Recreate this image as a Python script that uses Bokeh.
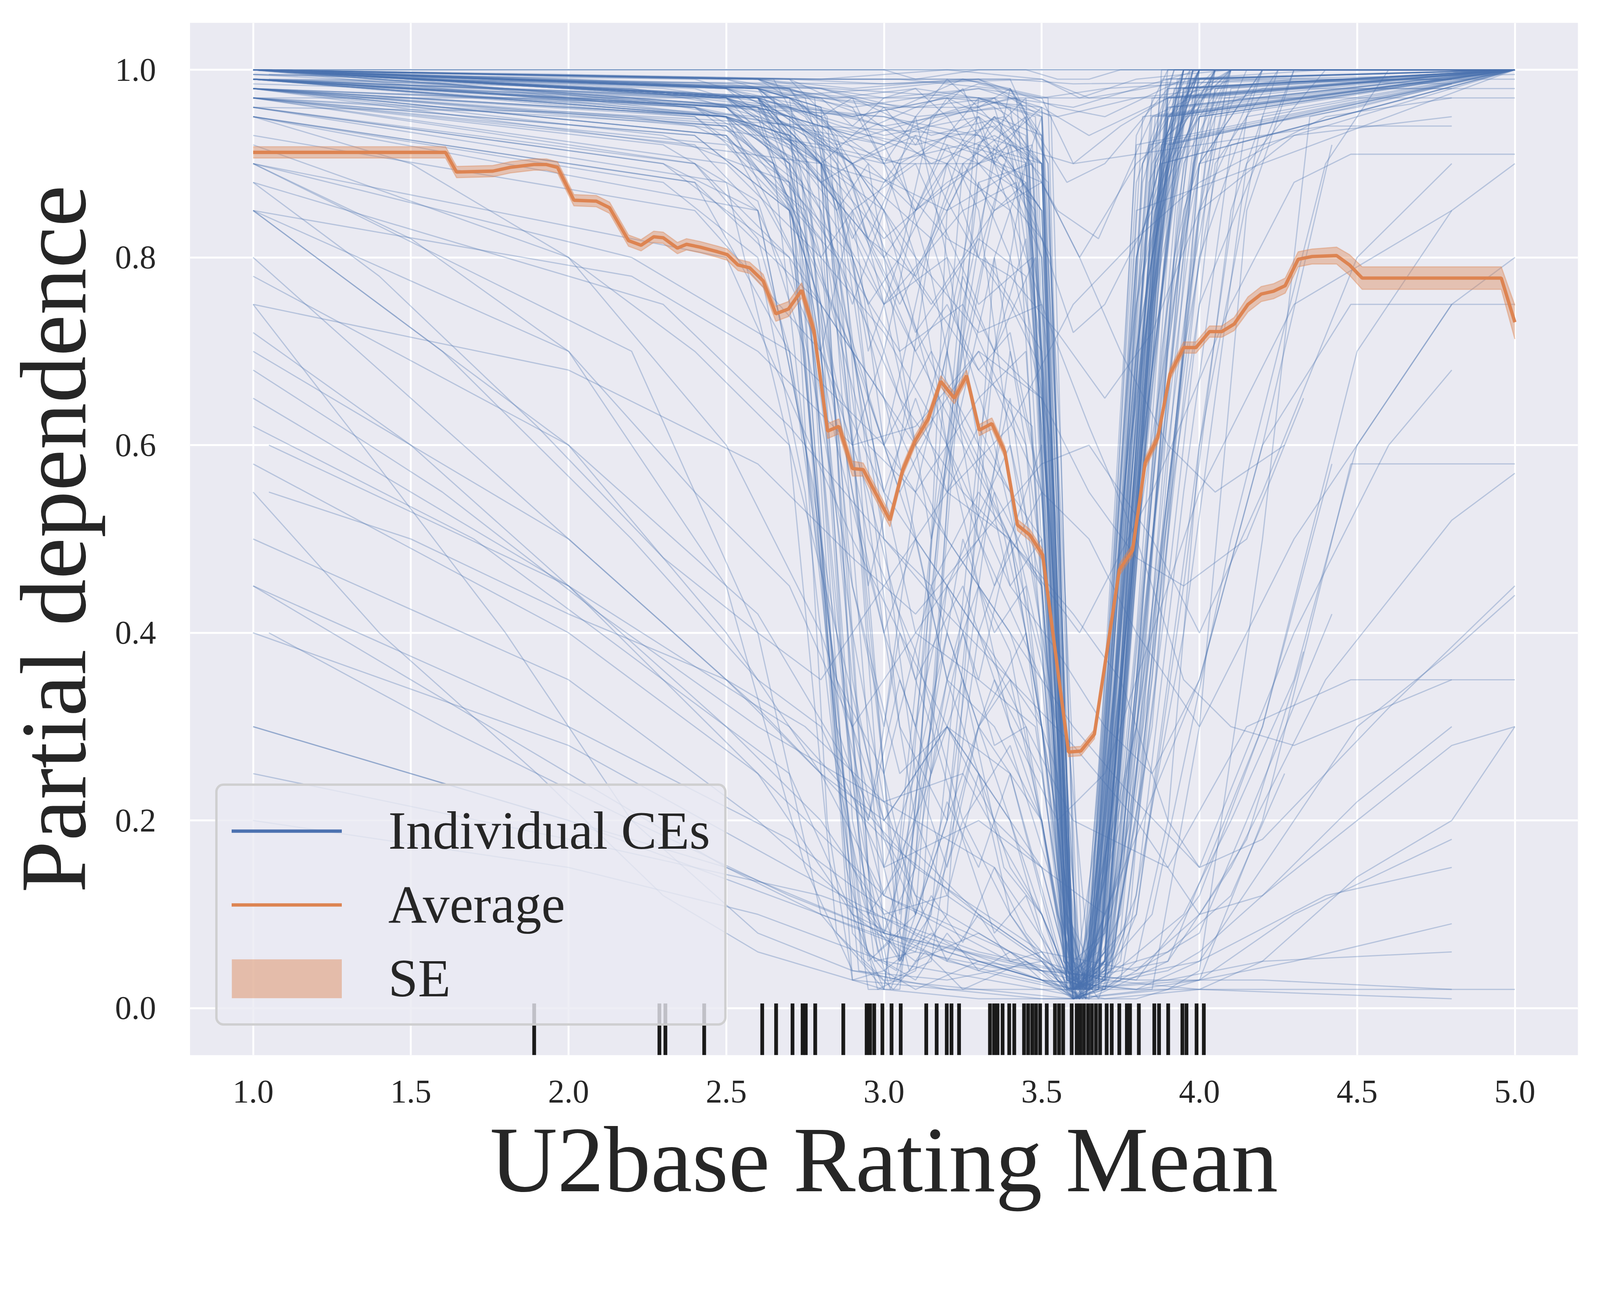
from bokeh.plotting import figure
from bokeh.models import ColumnDataSource, FixedTicker, PrintfTickFormatter, Legend, LegendItem
from bokeh.embed import file_html
from bokeh.resources import INLINE

# ---------------- data ----------------
x_ticks = [1.0, 1.5, 2.0, 2.5, 3.0, 3.5, 4.0, 4.5, 5.0]
y_ticks = [0.0, 0.2, 0.4, 0.6, 0.8, 1.0]

# individual conditional expectation curves, (feature value, prediction) knots
ice_top = [
    [(1,1),(5,1)],
    [(1,1),(3.45,1),(3.55,.99),(3.65,.99),(3.75,1),(5,1)],
    [(1,1),(2,.995),(2.8,.99),(3.2,1),(3.5,.99),(3.62,.97),(3.8,.99),(4.1,1),(5,1)],
    [(1,.99),(1.8,.985),(2.6,.97),(3.0,.98),(3.3,.99),(3.55,.96),(3.7,.95),(3.95,.99),(4.4,1),(5,1)],
    [(1,1),(2.2,.98),(2.7,.95),(2.9,.93),(3.1,.96),(3.3,.985),(3.5,.97),(3.6,.9),(3.75,.94),(4.0,.99),(5,1)],
    [(1.05,.995),(2.5,.99),(3.4,.99),(3.6,.985),(4.8,.99)],
    [(1,.985),(2.4,.97),(2.9,.95),(3.2,.97),(3.5,.96),(3.65,.93),(3.9,.97),(4.2,.98),(4.8,.98)],
    [(1,.97),(5,.97)],
    [(1,1),(2.8,.98),(3.05,.96),(3.25,.99),(3.4,.98),(3.58,.88),(3.7,.9),(3.9,.98),(5,1)],
    [(1,.98),(2.6,.96),(3.0,.92),(3.15,.95),(3.35,.97),(3.55,.85),(3.68,.82),(3.85,.95),(4.1,.99),(5,.995)],
    [(1.05,.99),(3.0,.985),(3.5,.99),(3.65,.97),(4.0,.99),(4.8,.985)],
    [(1,1),(3.0,1),(3.1,.99),(3.3,1),(5,1)],
    [(1,.995),(2.6,.985),(3.3,.97),(3.55,.95),(3.8,.97),(4.3,.99),(5,.99)],
    [(1,.96),(2.0,.955),(2.8,.94),(3.3,.93),(3.6,.9),(4.0,.92),(4.4,.94),(4.8,.94)],
    [(1,1),(1.5,.99),(2.0,.97),(2.5,.95),(2.7,.93),(2.8,.9),(2.95,.75),(3.05,.8),(3.2,.9),(3.35,.95),(3.5,.9),(3.58,.1),(3.64,.03),(3.8,.8),(3.95,1),(5,1)],
    [(1,.995),(1.8,.98),(2.4,.96),(2.7,.94),(3.0,.92),(3.2,.95),(3.4,.97),(3.6,.96),(3.8,.98),(4.0,1),(5,1)],
    [(1,1),(2.0,.99),(2.6,.98),(2.9,.96),(3.1,.97),(3.3,.98),(3.5,.97),(3.7,.98),(4.2,.99),(4.8,.99)],
    [(1,.99),(2.2,.97),(2.7,.94),(2.9,.9),(3.1,.93),(3.3,.91),(3.5,.88),(3.62,.8),(3.8,.9),(4.0,.96),(4.5,.98),(5,.98)],
]
ice_v = [
    [(1,1),(2.5,.99),(2.85,.97),(3.1,.98),(3.3,.97),(3.48,.95),(3.6,.02),(3.68,.2),(3.85,.97),(5,1)],
    [(1,1),(2.5,.98),(2.9,.95),(3.2,.97),(3.45,.93),(3.57,.05),(3.63,.03),(3.8,.8),(3.95,1),(5,1)],
    [(1,.99),(2.4,.97),(2.8,.93),(3.05,.9),(3.3,.95),(3.5,.9),(3.6,.01),(3.66,.05),(3.9,.95),(4.1,1),(5,1)],
    [(1,1),(2.6,.99),(2.9,.98),(3.25,.99),(3.52,.97),(3.59,.1),(3.64,.02),(3.78,.7),(3.9,1),(5,1)],
    [(1,1),(2.3,.98),(2.75,.96),(3.0,.94),(3.35,.96),(3.5,.8),(3.58,.03),(3.62,.01),(3.72,.4),(3.88,.99),(5,1)],
    [(1,.98),(2.5,.95),(2.8,.9),(3.0,.88),(3.2,.93),(3.45,.88),(3.55,.2),(3.6,.02),(3.7,.15),(3.82,.9),(3.95,1),(5,1)],
    [(1,1),(2.6,.99),(3.0,.97),(3.3,.98),(3.5,.96),(3.62,.04),(3.67,.06),(3.85,.85),(4.0,1),(5,1)],
    [(1,1),(2.5,.97),(2.85,.92),(3.15,.95),(3.42,.97),(3.55,.4),(3.6,.01),(3.7,.05),(3.92,.98),(5,1)],
    [(1,.99),(2.2,.98),(2.7,.96),(3.0,.95),(3.3,.93),(3.48,.85),(3.58,.02),(3.65,.01),(3.75,.3),(3.9,.95),(4.05,1),(5,1)],
    [(1,1),(2.7,.99),(3.05,.99),(3.35,.98),(3.5,.95),(3.6,.05),(3.7,.08),(3.8,.6),(3.88,1),(5,1)],
    [(1,1),(2.4,.99),(2.8,.95),(3.1,.85),(3.3,.9),(3.47,.92),(3.6,.03),(3.66,.02),(3.82,.9),(3.97,1),(5,1)],
    [(1,.99),(2.6,.97),(2.95,.93),(3.2,.9),(3.4,.85),(3.53,.6),(3.6,.02),(3.68,.04),(3.85,.75),(4.0,.99),(5,1)],
    [(1,1),(2.5,.98),(2.8,.97),(3.1,.96),(3.35,.97),(3.5,.93),(3.59,.02),(3.64,.03),(3.76,.55),(3.9,.97),(5,1)],
    [(1,.98),(2.4,.96),(2.75,.92),(3.0,.9),(3.25,.92),(3.46,.9),(3.56,.1),(3.61,.02),(3.7,.2),(3.84,.85),(4.0,1),(5,1)],
    [(1,1),(2.8,.99),(3.1,.99),(3.4,.99),(3.52,.9),(3.6,.02),(3.66,.04),(3.8,.93),(3.9,1),(5,1)],
    [(1,1),(2.5,.985),(2.9,.97),(3.15,.93),(3.38,.95),(3.5,.9),(3.58,.03),(3.64,.02),(3.74,.25),(3.88,.92),(4.0,1),(5,1)],
    [(1,.995),(2.6,.98),(3.0,.96),(3.3,.96),(3.47,.9),(3.57,.15),(3.62,.03),(3.7,.1),(3.86,.9),(3.98,1),(5,1)],
    [(1,1),(2.4,.98),(2.8,.94),(3.1,.92),(3.35,.94),(3.52,.88),(3.6,.04),(3.68,.06),(3.78,.5),(3.93,.99),(5,1)],
    [(1,.97),(2.2,.95),(2.8,.92),(3.05,.9),(3.3,.9),(3.48,.86),(3.58,.05),(3.63,.02),(3.75,.35),(3.95,.97),(4.1,1),(5,1)],
    [(1,1),(2.7,.99),(3.0,.985),(3.3,.99),(3.53,.95),(3.61,.03),(3.67,.05),(3.82,.88),(3.92,1),(5,1)],
    [(1,1),(2.5,.97),(2.8,.9),(3.0,.75),(3.2,.8),(3.35,.7),(3.5,.65),(3.6,.02),(3.67,.03),(3.85,.92),(4.0,1),(5,1)],
    [(1,.99),(2.4,.95),(2.75,.85),(2.95,.6),(3.1,.55),(3.3,.65),(3.45,.7),(3.58,.05),(3.64,.01),(3.78,.6),(3.95,.98),(5,1)],
    [(1,1),(2.6,.97),(2.85,.8),(3.0,.5),(3.15,.45),(3.3,.55),(3.5,.45),(3.6,.03),(3.7,.08),(3.9,.95),(5,1)],
    [(1,.98),(2.3,.93),(2.7,.88),(2.9,.78),(3.05,.7),(3.25,.75),(3.45,.6),(3.57,.08),(3.63,.02),(3.8,.7),(3.95,1),(5,1)],
    [(1,1),(2.5,.96),(2.8,.88),(3.0,.8),(3.2,.65),(3.4,.5),(3.55,.3),(3.62,.02),(3.7,.05),(3.88,.9),(4.05,1),(5,1)],
    [(1,.97),(2.4,.93),(2.7,.85),(2.9,.7),(3.1,.4),(3.3,.35),(3.48,.3),(3.6,.02),(3.66,.04),(3.8,.8),(3.95,1),(5,1)],
    [(1,1),(2.6,.98),(2.9,.9),(3.1,.72),(3.3,.82),(3.45,.78),(3.58,.04),(3.65,.03),(3.75,.4),(3.9,.96),(5,1)],
    [(1,.99),(2.5,.95),(2.8,.82),(3.0,.6),(3.15,.7),(3.3,.6),(3.5,.5),(3.6,.01),(3.68,.02),(3.86,.85),(4.0,.99),(5,1)],
    [(1,1),(2.6,.96),(2.9,.85),(3.1,.9),(3.3,.75),(3.47,.8),(3.59,.03),(3.66,.05),(3.82,.95),(5,1)],
    [(1,.96),(2.3,.9),(2.7,.8),(3.0,.65),(3.2,.5),(3.4,.4),(3.55,.25),(3.61,.02),(3.7,.06),(3.9,.93),(4.1,1),(5,1)],
    [(1,1),(2.5,.98),(2.8,.9),(3.0,.85),(3.2,.6),(3.35,.45),(3.5,.55),(3.6,.03),(3.67,.02),(3.8,.55),(3.97,.99),(5,1)],
    [(1,.99),(2.4,.96),(2.75,.9),(2.95,.82),(3.1,.78),(3.3,.68),(3.47,.62),(3.58,.02),(3.64,.03),(3.76,.45),(3.92,.97),(5,1)],
    [(1,1),(2.6,.97),(2.85,.86),(3.05,.58),(3.2,.35),(3.35,.3),(3.5,.2),(3.6,.01),(3.68,.03),(3.84,.88),(4.0,1),(5,1)],
    [(1,.98),(2.5,.94),(2.8,.86),(3.0,.75),(3.25,.85),(3.42,.88),(3.56,.1),(3.62,.02),(3.72,.2),(3.9,.95),(5,1)],
    [(1,1),(2.7,.97),(2.95,.88),(3.15,.82),(3.35,.6),(3.5,.38),(3.6,.02),(3.66,.03),(3.82,.78),(3.98,1),(5,1)],
]
ice_chaos = [
    [(1,1),(2.5,.97),(2.7,.9),(2.8,.7),(2.9,.85),(3.0,.6),(3.1,.75),(3.2,.9),(3.3,.8),(3.4,.92),(3.5,.7),(3.58,.1),(3.65,.05),(3.75,.5),(3.85,.9),(4.0,1),(5,1)],
    [(1,.99),(2.5,.95),(2.7,.93),(2.8,.8),(2.9,.45),(3.0,.3),(3.1,.55),(3.2,.7),(3.3,.5),(3.4,.65),(3.5,.4),(3.57,.05),(3.64,.02),(3.72,.3),(3.84,.8),(3.95,.97),(5,1)],
    [(1,1),(2.6,.98),(2.75,.95),(2.85,.9),(2.95,.7),(3.05,.8),(3.15,.95),(3.25,.98),(3.35,.9),(3.45,.95),(3.52,.6),(3.6,.03),(3.68,.08),(3.78,.6),(3.9,.95),(5,1)],
    [(1,.98),(2.4,.94),(2.65,.9),(2.75,.6),(2.85,.35),(2.95,.2),(3.05,.4),(3.15,.3),(3.25,.5),(3.35,.4),(3.45,.45),(3.55,.15),(3.62,.02),(3.7,.1),(3.82,.6),(3.95,.95),(4.1,1),(5,1)],
    [(1,1),(2.6,.97),(2.8,.95),(2.9,.9),(3.0,.92),(3.1,.85),(3.2,.9),(3.3,.95),(3.4,.85),(3.5,.75),(3.58,.2),(3.63,.03),(3.7,.05),(3.8,.4),(3.9,.85),(4.0,.98),(5,1)],
    [(1,.97),(2.5,.92),(2.7,.85),(2.8,.75),(2.9,.55),(3.0,.4),(3.1,.2),(3.2,.35),(3.3,.25),(3.4,.15),(3.5,.1),(3.6,.02),(3.7,.04),(3.85,.5),(4.0,.9),(4.2,1),(5,1)],
    [(1,1),(2.6,.99),(2.75,.97),(2.85,.85),(2.95,.9),(3.05,.7),(3.15,.5),(3.25,.65),(3.35,.8),(3.45,.6),(3.55,.35),(3.6,.05),(3.66,.02),(3.76,.35),(3.88,.88),(4.0,1),(5,1)],
    [(1,.99),(2.5,.96),(2.7,.9),(2.8,.85),(2.9,.75),(3.0,.85),(3.1,.95),(3.2,.8),(3.3,.6),(3.4,.45),(3.5,.5),(3.58,.05),(3.63,.01),(3.73,.2),(3.85,.75),(3.97,.99),(5,1)],
    [(1,1),(2.5,.98),(2.7,.95),(2.8,.92),(2.9,.8),(3.0,.5),(3.1,.25),(3.2,.15),(3.3,.3),(3.4,.2),(3.5,.08),(3.6,.01),(3.7,.03),(3.8,.25),(3.92,.8),(4.05,1),(5,1)],
    [(1,.98),(2.6,.96),(2.75,.93),(2.85,.88),(2.95,.65),(3.05,.55),(3.15,.62),(3.25,.78),(3.35,.7),(3.45,.82),(3.53,.5),(3.6,.04),(3.67,.06),(3.78,.45),(3.9,.92),(5,1)],
    [(1,1),(2.5,.99),(2.7,.97),(2.8,.95),(2.9,.97),(3.0,.9),(3.1,.8),(3.2,.6),(3.3,.45),(3.4,.3),(3.5,.2),(3.58,.03),(3.65,.02),(3.75,.15),(3.85,.55),(3.95,.9),(4.1,1),(5,1)],
    [(1,.99),(2.4,.96),(2.65,.9),(2.75,.82),(2.85,.65),(2.95,.45),(3.05,.6),(3.15,.82),(3.25,.92),(3.35,.95),(3.45,.9),(3.55,.5),(3.6,.05),(3.68,.03),(3.78,.55),(3.88,.95),(5,1)],
    [(1,1),(2.6,.97),(2.8,.88),(2.9,.7),(3.0,.55),(3.1,.65),(3.2,.55),(3.3,.62),(3.4,.55),(3.5,.3),(3.57,.1),(3.62,.02),(3.72,.12),(3.82,.6),(3.95,.96),(5,1)],
    [(1,.97),(2.5,.94),(2.7,.88),(2.8,.8),(2.9,.85),(3.0,.78),(3.1,.7),(3.2,.75),(3.3,.68),(3.4,.72),(3.5,.55),(3.6,.03),(3.7,.05),(3.8,.5),(3.92,.9),(4.05,1),(5,1)],
    [(1,1),(2.7,.98),(2.8,.93),(2.9,.6),(3.0,.25),(3.1,.1),(3.2,.2),(3.3,.45),(3.4,.7),(3.5,.55),(3.58,.04),(3.64,.02),(3.74,.25),(3.86,.82),(3.98,1),(5,1)],
    [(1,.99),(2.5,.97),(2.7,.94),(2.8,.9),(2.9,.93),(3.0,.96),(3.1,.92),(3.2,.97),(3.3,.93),(3.4,.9),(3.5,.85),(3.57,.3),(3.62,.02),(3.7,.06),(3.8,.65),(3.9,.97),(5,1)],
    [(1,.96),(2.4,.9),(2.6,.82),(2.7,.7),(2.8,.5),(2.9,.3),(3.0,.15),(3.1,.25),(3.2,.4),(3.3,.3),(3.4,.35),(3.5,.2),(3.6,.02),(3.7,.03),(3.85,.4),(4.0,.85),(4.2,1),(5,1)],
    [(1,1),(2.6,.98),(2.8,.96),(2.9,.88),(3.0,.75),(3.1,.6),(3.2,.72),(3.3,.88),(3.4,.8),(3.5,.65),(3.58,.08),(3.64,.03),(3.74,.3),(3.84,.78),(3.95,.98),(5,1)],
    [(1,.99),(2.5,.96),(2.7,.92),(2.8,.85),(2.9,.6),(3.0,.7),(3.1,.85),(3.2,.92),(3.3,.85),(3.4,.6),(3.5,.45),(3.6,.02),(3.68,.04),(3.8,.7),(3.95,1),(5,1)],
    [(1,1),(2.6,.99),(2.75,.96),(2.85,.93),(2.95,.82),(3.05,.9),(3.15,.78),(3.25,.62),(3.35,.55),(3.45,.4),(3.55,.12),(3.61,.01),(3.7,.05),(3.82,.55),(3.93,.93),(4.05,1),(5,1)],
    [(1,1),(2.6,.98),(2.8,.93),(2.9,.88),(3.0,.8),(3.1,.85),(3.2,.93),(3.3,.97),(3.4,.95),(3.48,.9),(3.56,.3),(3.61,.02),(3.68,.05),(3.78,.45),(3.9,.9),(4.0,1),(5,1)],
    [(1,.99),(2.5,.97),(2.7,.95),(2.85,.9),(2.95,.82),(3.05,.75),(3.15,.82),(3.25,.9),(3.35,.85),(3.45,.88),(3.53,.5),(3.6,.03),(3.66,.02),(3.76,.4),(3.88,.92),(5,1)],
    [(1,1),(2.7,.99),(2.9,.96),(3.0,.9),(3.1,.95),(3.2,.99),(3.3,.96),(3.4,.98),(3.5,.93),(3.58,.4),(3.63,.05),(3.7,.03),(3.8,.35),(3.92,.9),(4.05,1),(5,1)],
    [(1,.98),(2.5,.95),(2.7,.92),(2.8,.88),(2.9,.9),(3.0,.85),(3.1,.78),(3.2,.85),(3.3,.92),(3.4,.88),(3.5,.8),(3.57,.15),(3.62,.03),(3.72,.1),(3.84,.65),(3.95,.97),(5,1)],
    [(1,1),(2.6,.99),(2.8,.97),(2.9,.94),(3.0,.97),(3.1,.98),(3.2,.95),(3.3,.9),(3.4,.93),(3.5,.96),(3.56,.6),(3.61,.04),(3.68,.07),(3.78,.55),(3.9,.96),(5,1)],
    [(1,.99),(2.6,.97),(2.8,.9),(2.9,.82),(3.0,.88),(3.1,.93),(3.2,.86),(3.3,.8),(3.4,.75),(3.5,.68),(3.58,.05),(3.64,.02),(3.74,.28),(3.86,.85),(3.98,1),(5,1)],
    [(1,1),(2.6,.97),(2.9,.9),(3.2,.85),(3.45,.9),(3.55,.4),(3.62,.03),(3.7,.02),(3.78,.1),(3.88,.5),(3.98,.9),(4.1,1),(5,1)],
    [(1,.99),(2.7,.96),(3.0,.93),(3.3,.95),(3.5,.85),(3.58,.05),(3.66,.03),(3.74,.15),(3.84,.45),(3.94,.8),(4.05,.98),(5,1)],
    [(1,1),(2.8,.98),(3.1,.95),(3.4,.96),(3.52,.7),(3.6,.02),(3.7,.04),(3.8,.3),(3.9,.7),(4.0,.95),(5,1)],
    [(1,.98),(2.6,.94),(2.9,.7),(3.1,.5),(3.3,.4),(3.5,.3),(3.6,.03),(3.72,.05),(3.82,.25),(3.92,.6),(4.02,.9),(4.15,1),(5,1)],
    [(1,1),(2.5,.97),(2.8,.9),(3.0,.82),(3.2,.88),(3.4,.92),(3.52,.8),(3.6,.05),(3.68,.01),(3.76,.08),(3.86,.35),(3.96,.75),(4.08,.97),(5,1)],
    [(1,.99),(2.6,.96),(2.85,.85),(3.05,.3),(3.2,.2),(3.35,.35),(3.5,.25),(3.6,.02),(3.7,.03),(3.8,.2),(3.9,.55),(4.0,.85),(4.1,1),(5,1)],
    [(1,1),(2.7,.98),(2.95,.95),(3.15,.9),(3.35,.93),(3.5,.9),(3.58,.1),(3.65,.02),(3.73,.06),(3.83,.4),(3.93,.85),(4.0,1),(5,1)],
    [(1,.97),(2.4,.9),(2.7,.8),(2.9,.45),(3.05,.25),(3.2,.3),(3.35,.2),(3.5,.15),(3.6,.02),(3.7,.02),(3.8,.1),(3.95,.45),(4.1,.85),(4.25,1),(5,1)],
    [(1,.95),(2.4,.88),(2.7,.7),(2.85,.35),(3.0,.25),(3.15,.45),(3.3,.3),(3.45,.4),(3.55,.2),(3.62,.02),(3.72,.05),(3.88,.6),(4.0,.95),(5,1)],
    [(1,.99),(2.6,.95),(2.8,.75),(2.95,.5),(3.1,.38),(3.25,.2),(3.4,.28),(3.52,.15),(3.6,.01),(3.7,.03),(3.85,.55),(3.98,.97),(5,1)],
    [(1,1),(2.65,.97),(2.85,.6),(3.0,.4),(3.1,.5),(3.2,.35),(3.3,.45),(3.4,.38),(3.55,.1),(3.63,.02),(3.75,.15),(3.9,.75),(4.05,1),(5,1)],
    [(1,.98),(2.5,.93),(2.75,.78),(2.9,.25),(3.0,.12),(3.12,.22),(3.25,.35),(3.38,.15),(3.5,.1),(3.6,.02),(3.72,.04),(3.85,.35),(4.0,.9),(5,1)],
]
ice_early = [
    [(1,1),(2.5,.98),(2.7,.95),(2.85,.3),(2.95,.05),(3.05,.08),(3.25,.9),(3.45,.95),(3.58,.03),(3.65,.02),(3.85,.95),(5,1)],
    [(1,1),(2.6,.97),(2.75,.85),(2.9,.1),(3.0,.02),(3.15,.5),(3.35,.92),(3.5,.85),(3.6,.02),(3.7,.05),(3.9,.98),(5,1)],
    [(1,.99),(2.5,.96),(2.72,.9),(2.82,.4),(2.92,.04),(3.05,.03),(3.2,.6),(3.3,.97),(3.5,.95),(3.59,.02),(3.66,.03),(3.8,.75),(3.95,1),(5,1)],
    [(1,1),(2.6,.98),(2.78,.93),(2.95,.15),(3.05,.05),(3.2,.2),(3.35,.7),(3.48,.8),(3.6,.03),(3.68,.02),(3.86,.9),(4.0,1),(5,1)],
    [(1,.98),(2.4,.95),(2.7,.88),(2.8,.5),(2.9,.03),(3.0,.02),(3.1,.3),(3.3,.88),(3.47,.9),(3.58,.04),(3.64,.01),(3.78,.6),(3.93,.98),(5,1)],
    [(1,1),(2.65,.99),(2.8,.9),(2.92,.2),(3.02,.03),(3.15,.05),(3.3,.4),(3.5,.6),(3.6,.02),(3.7,.1),(3.92,.96),(5,1)],
    [(1,1),(2.5,.97),(2.75,.92),(2.88,.35),(2.98,.06),(3.1,.1),(3.25,.75),(3.4,.98),(3.52,.9),(3.6,.02),(3.65,.04),(3.84,.92),(5,1)],
    [(1,.97),(2.3,.92),(2.6,.86),(2.75,.7),(2.88,.15),(2.98,.02),(3.1,.04),(3.3,.3),(3.5,.2),(3.6,.01),(3.7,.03),(3.88,.85),(4.05,1),(5,1)],
    [(1,1),(2.6,.98),(2.8,.96),(2.9,.5),(3.0,.08),(3.1,.15),(3.2,.85),(3.35,.95),(3.5,.93),(3.58,.03),(3.63,.02),(3.75,.4),(3.9,.99),(5,1)],
    [(1,.99),(2.5,.95),(2.7,.9),(2.85,.25),(2.95,.02),(3.05,.02),(3.2,.45),(3.4,.6),(3.55,.3),(3.61,.01),(3.68,.02),(3.82,.7),(3.97,1),(5,1)],
    [(1,1),(2.7,.99),(2.82,.95),(2.95,.4),(3.05,.1),(3.15,.3),(3.3,.92),(3.45,.97),(3.57,.05),(3.64,.02),(3.8,.92),(5,1)],
    [(1,.98),(2.5,.95),(2.72,.8),(2.82,.2),(2.9,.03),(3.0,.04),(3.1,.02),(3.3,.05),(3.5,.04),(3.6,.01),(3.7,.02),(3.85,.3),(4.0,.9),(4.2,1),(5,1)],
    [(1,1),(2.6,.98),(2.76,.9),(2.88,.3),(2.97,.05),(3.1,.06),(3.25,.2),(3.4,.1),(3.55,.03),(3.62,.01),(3.75,.1),(3.95,.7),(4.1,.98),(5,1)],
    [(1,.99),(2.4,.96),(2.7,.93),(2.86,.6),(2.96,.1),(3.06,.05),(3.18,.55),(3.32,.8),(3.5,.7),(3.6,.02),(3.66,.03),(3.86,.95),(5,1)],
    [(1,1),(2.6,.97),(2.8,.9),(2.93,.12),(3.02,.02),(3.12,.1),(3.22,.65),(3.38,.9),(3.53,.8),(3.6,.02),(3.68,.04),(3.9,.97),(5,1)],
    [(1,.96),(2.3,.9),(2.6,.85),(2.78,.55),(2.9,.08),(3.0,.04),(3.15,.08),(3.3,.05),(3.5,.03),(3.62,.01),(3.72,.04),(3.9,.5),(4.05,.95),(5,1)],
    [(1,1),(2.7,.98),(2.85,.92),(2.95,.45),(3.05,.05),(3.15,.1),(3.3,.6),(3.45,.9),(3.58,.04),(3.65,.02),(3.8,.85),(5,1)],
    [(1,.99),(2.5,.96),(2.74,.88),(2.85,.3),(2.94,.06),(3.04,.04),(3.2,.35),(3.35,.55),(3.5,.45),(3.6,.02),(3.68,.03),(3.88,.9),(5,1)],
    [(1,1),(2.6,.99),(2.78,.97),(2.9,.6),(3.0,.15),(3.08,.04),(3.2,.1),(3.35,.8),(3.5,.95),(3.59,.03),(3.64,.01),(3.8,.88),(3.92,1),(5,1)],
    [(1,.97),(2.4,.93),(2.7,.85),(2.83,.4),(2.93,.05),(3.03,.02),(3.13,.06),(3.25,.02),(3.45,.05),(3.6,.01),(3.75,.03),(3.95,.4),(4.15,.9),(4.4,1),(5,1)],
    [(1,.98),(2.5,.94),(2.7,.85),(2.8,.5),(2.9,.15),(3.0,.08),(3.1,.2),(3.2,.12),(3.3,.25),(3.4,.1),(3.5,.05),(3.6,.01),(3.7,.04),(3.82,.3),(3.95,.85),(4.1,1),(5,1)],
    [(1,1),(2.6,.96),(2.75,.8),(2.85,.4),(2.95,.1),(3.05,.15),(3.15,.3),(3.25,.18),(3.35,.08),(3.45,.12),(3.55,.03),(3.63,.01),(3.75,.08),(3.9,.6),(4.05,.98),(5,1)],
    [(1,.97),(2.4,.92),(2.6,.85),(2.75,.6),(2.85,.3),(2.95,.2),(3.05,.35),(3.15,.25),(3.25,.4),(3.35,.28),(3.45,.3),(3.55,.1),(3.62,.02),(3.72,.06),(3.85,.5),(4.0,.95),(5,1)],
    [(1,1),(2.7,.97),(2.8,.75),(2.9,.2),(3.0,.05),(3.1,.03),(3.2,.08),(3.3,.04),(3.4,.06),(3.5,.03),(3.6,.01),(3.7,.02),(3.8,.05),(3.9,.2),(4.0,.6),(4.15,.95),(5,1)],
    [(1,.99),(2.5,.95),(2.7,.9),(2.8,.7),(2.9,.35),(3.0,.18),(3.1,.1),(3.2,.22),(3.3,.15),(3.4,.25),(3.5,.12),(3.58,.02),(3.66,.03),(3.78,.2),(3.9,.7),(4.0,.97),(5,1)],
    [(1,.95),(2.3,.88),(2.6,.8),(2.75,.55),(2.85,.25),(2.95,.1),(3.05,.05),(3.15,.12),(3.25,.07),(3.35,.15),(3.45,.08),(3.55,.04),(3.62,.01),(3.75,.05),(3.9,.45),(4.05,.9),(4.25,1),(5,1)],
    [(1,1),(2.6,.97),(2.8,.9),(2.9,.65),(3.0,.4),(3.1,.3),(3.2,.45),(3.3,.35),(3.4,.5),(3.5,.3),(3.58,.03),(3.65,.02),(3.76,.15),(3.88,.7),(4.0,1),(5,1)],
    [(1,.98),(2.5,.93),(2.7,.86),(2.8,.65),(2.9,.4),(3.0,.22),(3.1,.12),(3.2,.05),(3.3,.1),(3.4,.05),(3.5,.06),(3.6,.01),(3.68,.02),(3.8,.12),(3.95,.55),(4.1,.92),(5,1)],
    [(1,.9),(2.2,.7),(2.6,.4),(2.8,.1),(3.0,.02),(3.3,.01),(3.6,.01),(3.9,.02),(4.0,.04),(4.2,.5),(4.35,.95),(5,1)],
    [(1,.96),(2.5,.88),(2.7,.6),(2.85,.08),(3.0,.03),(3.3,.02),(3.6,.01),(3.85,.02),(4.0,.3),(4.15,.85),(4.3,1),(5,1)],
]
ice_left = [
    [(1,.85),(1.6,.7),(2.2,.5),(2.6,.35),(2.8,.3),(3.0,.15),(3.3,.2),(3.5,.15),(3.6,.02),(3.7,.05),(3.9,.9),(4.1,1),(5,1)],
    [(1,.72),(1.5,.6),(2.0,.45),(2.5,.3),(2.8,.2),(3.0,.1),(3.2,.12),(3.5,.05),(3.6,.01),(3.75,.2),(3.95,.95),(5,1)],
    [(1,.62),(1.7,.5),(2.3,.35),(2.7,.25),(2.9,.1),(3.1,.05),(3.3,.08),(3.6,.02),(3.8,.1),(4.0,.6),(4.2,.95),(5,1)],
    [(1,.9),(1.5,.82),(2.0,.7),(2.4,.55),(2.7,.45),(2.9,.3),(3.1,.4),(3.3,.5),(3.5,.35),(3.6,.02),(3.68,.03),(3.88,.9),(5,1)],
    [(1,.55),(1.4,.4),(1.9,.25),(2.3,.12),(2.6,.06),(2.9,.03),(3.2,.02),(3.5,.02),(3.65,.01),(3.9,.05),(4.2,.3),(4.5,.7),(4.8,.85),(5,.9)],
    [(1,.8),(1.5,.65),(2.0,.5),(2.5,.35),(2.8,.25),(3.0,.2),(3.2,.3),(3.4,.25),(3.58,.03),(3.66,.04),(3.85,.8),(3.98,1),(5,1)],
    [(1,.68),(1.6,.55),(2.1,.42),(2.6,.3),(2.85,.25),(3.1,.2),(3.35,.15),(3.55,.05),(3.62,.01),(3.8,.3),(4.0,.75),(4.3,1),(5,1)],
    [(1,.95),(1.5,.9),(2.0,.8),(2.4,.7),(2.7,.6),(2.85,.4),(3.0,.2),(3.2,.3),(3.4,.2),(3.58,.02),(3.65,.02),(3.82,.7),(3.95,.98),(5,1)],
    [(1,.45),(1.5,.35),(2.0,.25),(2.5,.15),(2.8,.1),(3.1,.06),(3.4,.04),(3.6,.02),(3.9,.03),(4.2,.05),(4.8,.06)],
    [(1,.3),(1.5,.25),(2.0,.2),(2.5,.15),(3.0,.08),(3.5,.04),(3.8,.03),(4.2,.03),(4.8,.02),(5,.02)],
    [(1,.75),(1.3,.62),(1.8,.4),(2.2,.2),(2.6,.08),(2.9,.04),(3.2,.03),(3.5,.05),(3.62,.01),(3.85,.1),(4.1,.5),(4.4,.9),(4.6,1),(5,1)],
    [(1,.88),(1.4,.78),(1.9,.62),(2.3,.48),(2.6,.4),(2.8,.35),(3.0,.45),(3.2,.55),(3.4,.5),(3.55,.2),(3.6,.02),(3.7,.06),(3.9,.92),(5,1)],
    [(1.05,.55),(1.5,.5),(2.0,.42),(2.5,.35),(2.75,.3),(3.0,.22),(3.25,.25),(3.5,.1),(3.6,.02),(3.8,.3),(4.0,.8),(4.2,1),(4.8,1)],
    [(1,.2),(2.0,.15),(2.6,.1),(3.0,.05),(3.5,.02),(4.0,.02),(4.8,.01)],
    [(1.05,.4),(1.6,.3),(2.2,.2),(2.7,.12),(3.0,.08),(3.4,.05),(3.7,.03),(4.0,.05),(4.4,.12),(4.8,.15)],
    [(1,.85),(2.0,.7),(2.5,.45),(2.75,.15),(2.9,.04),(3.2,.02),(3.5,.01),(3.8,.01),(4.0,.03),(4.2,.2),(4.48,.58),(5,.58)],
]
ice_mid = [
    [(1,1),(2.5,.95),(2.9,.8),(3.1,.6),(3.3,.7),(3.5,.55),(3.65,.5),(3.8,.4),(4.0,.3),(4.3,.5),(4.8,.75),(5,.8)],
    [(1,.95),(2.4,.88),(2.8,.75),(3.0,.65),(3.2,.55),(3.4,.62),(3.6,.75),(3.8,.82),(4.0,.88),(4.4,.95),(4.8,.97)],
    [(1,1),(2.6,.97),(2.9,.9),(3.1,.8),(3.3,.72),(3.5,.75),(3.65,.62),(3.8,.5),(3.95,.35),(4.1,.3),(4.3,.28),(4.8,.35)],
    [(1,.9),(2.2,.8),(2.7,.7),(3.0,.6),(3.2,.5),(3.4,.4),(3.6,.3),(3.8,.22),(4.0,.15),(4.2,.18),(4.6,.32),(5,.45)],
    [(1,1),(2.6,.98),(3.0,.94),(3.3,.9),(3.5,.82),(3.6,.72),(3.7,.75),(3.85,.85),(4.0,.95),(4.2,.98),(5,1)],
    [(1,.75),(2.0,.68),(2.6,.58),(2.9,.48),(3.1,.42),(3.3,.5),(3.5,.58),(3.65,.6),(3.85,.5),(4.0,.4),(4.2,.55),(4.5,.8),(4.8,.9)],
    [(1,.98),(2.5,.93),(2.85,.8),(3.05,.65),(3.25,.55),(3.45,.48),(3.6,.42),(3.75,.35),(3.9,.2),(4.0,.15),(4.3,.4),(4.6,.6),(4.8,.68)],
    [(1,.88),(2.3,.75),(2.7,.62),(3.0,.5),(3.2,.42),(3.4,.35),(3.6,.28),(3.8,.2),(4.0,.1),(4.2,.12),(4.5,.2),(4.8,.28),(5,.3)],
    [(1,1),(2.7,.97),(3.0,.9),(3.2,.82),(3.4,.78),(3.55,.72),(3.7,.65),(3.85,.72),(4.0,.85),(4.3,.93),(4.8,.95)],
    [(1,.93),(2.4,.85),(2.8,.7),(2.95,.55),(3.1,.35),(3.25,.45),(3.4,.3),(3.55,.2),(3.7,.25),(3.85,.4),(4.0,.55),(4.3,.75),(4.8,.85)],
    [(1,1),(2.6,.96),(2.9,.88),(3.15,.75),(3.35,.85),(3.5,.88),(3.62,.8),(3.75,.7),(3.9,.6),(4.05,.55),(4.27,.6)],
    [(1,.97),(2.5,.9),(2.8,.8),(3.0,.72),(3.2,.6),(3.4,.45),(3.55,.38),(3.7,.3),(3.85,.25),(4.0,.35),(4.2,.6),(4.42,.92)],
    [(1,.85),(2.2,.78),(2.6,.7),(2.9,.6),(3.1,.62),(3.3,.7),(3.5,.65),(3.65,.55),(3.8,.48),(3.95,.45),(4.15,.5),(4.33,.65)],
    [(1,.99),(3.0,.95),(3.5,.9),(3.58,.3),(3.65,.05),(3.8,.5),(4.0,.93),(4.5,.96),(4.8,.985)],
    [(1,.9),(2.5,.8),(2.9,.5),(3.2,.3),(3.5,.15),(3.7,.1),(4.0,.35),(4.2,.6),(4.48,.75),(5,.75)],
    [(1,.98),(2.8,.9),(3.1,.7),(3.4,.5),(3.62,.4),(3.85,.55),(4.1,.75),(4.3,.88),(4.48,.91),(5,.91)],
    [(1,.95),(2.6,.85),(3.0,.55),(3.3,.4),(3.6,.2),(3.9,.15),(4.15,.3),(4.48,.35),(5,.35)],
]
ice_low = [
    [(1,.65),(2,.45),(2.6,.25),(2.9,.1),(3.2,.05),(3.6,.02),(3.9,.04),(4.0,.06),(4.2,.12),(4.5,.22),(4.8,.3)],
    [(1,.5),(2,.35),(2.6,.2),(3.0,.08),(3.5,.03),(3.8,.02),(4.0,.05),(4.2,.15),(4.5,.3),(4.8,.38),(5,.44)],
    [(1,.85),(2,.6),(2.5,.4),(2.8,.25),(3.0,.12),(3.4,.05),(3.7,.02),(4.0,.08),(4.15,.2),(4.42,.42)],
    [(1,.45),(2,.3),(2.7,.18),(3.1,.08),(3.5,.03),(3.8,.02),(4.0,.03),(4.3,.05),(4.8,.09)],
    [(1,.3),(2,.2),(2.8,.1),(3.3,.04),(3.7,.01),(4.0,.02),(4.2,.05),(4.5,.14),(4.8,.2),(5,.3)],
    [(1,.7),(2,.5),(2.6,.32),(3.0,.18),(3.3,.1),(3.6,.03),(3.9,.06),(4.1,.12),(4.27,.25)],
    [(1,.58),(2,.4),(2.6,.25),(3.0,.12),(3.4,.06),(3.7,.03),(3.95,.1),(4.1,.2),(4.3,.35),(4.5,.6),(4.8,.75)],
    [(1,.25),(2,.18),(2.8,.12),(3.3,.06),(3.7,.03),(4.0,.02),(4.5,.02),(4.8,.02)],
    [(1.05,.6),(2,.45),(2.7,.3),(3.1,.15),(3.5,.06),(3.8,.04),(4.0,.1),(4.15,.18),(4.33,.38)],
    [(1,.92),(2,.8),(2.5,.6),(2.8,.4),(3.0,.2),(3.3,.1),(3.6,.03),(3.9,.05),(4.1,.15),(4.4,.35),(4.8,.52),(5,.57)],
    [(1,.4),(2,.28),(2.7,.15),(3.2,.06),(3.6,.02),(4.0,.03),(4.3,.1),(4.8,.18)],
    [(1,.78),(2,.6),(2.6,.42),(2.9,.25),(3.1,.12),(3.5,.04),(3.8,.03),(4.0,.12),(4.2,.3),(4.42,.58)],
]

# average partial dependence and its standard error
avg_x = [1.0, 1.61, 1.645, 1.76, 1.815, 1.89, 1.93, 1.965, 2.017, 2.088, 2.13, 2.19,
         2.23, 2.27, 2.30, 2.345, 2.374, 2.417, 2.473, 2.503, 2.537, 2.574, 2.617,
         2.657, 2.697, 2.739, 2.778, 2.821, 2.857, 2.90, 2.934, 3.019, 3.059, 3.098,
         3.14, 3.18, 3.223, 3.262, 3.302, 3.342, 3.383, 3.423, 3.463, 3.503, 3.585,
         3.624, 3.667, 3.746, 3.788, 3.828, 3.868, 3.907, 3.95, 3.989, 4.032, 4.071,
         4.11, 4.154, 4.196, 4.235, 4.272, 4.313, 4.357, 4.435, 4.476, 4.516, 4.957, 5.0]
avg_y = [0.912, 0.912, 0.891, 0.892, 0.896, 0.899, 0.899, 0.896, 0.861, 0.860, 0.853,
         0.818, 0.813, 0.822, 0.821, 0.810, 0.814, 0.811, 0.806, 0.803, 0.792, 0.789,
         0.775, 0.740, 0.745, 0.765, 0.722, 0.615, 0.620, 0.575, 0.574, 0.520, 0.573,
         0.604, 0.628, 0.668, 0.650, 0.674, 0.616, 0.623, 0.593, 0.515, 0.504, 0.483,
         0.273, 0.274, 0.292, 0.467, 0.488, 0.581, 0.608, 0.676, 0.704, 0.704, 0.721,
         0.721, 0.729, 0.750, 0.761, 0.764, 0.770, 0.798, 0.801, 0.802, 0.792, 0.778,
         0.778, 0.731]
avg_se = [0.006, 0.006, 0.006, 0.006, 0.006, 0.006, 0.006, 0.006, 0.006, 0.006, 0.006,
          0.006, 0.006, 0.006, 0.006, 0.006, 0.006, 0.006, 0.006, 0.006, 0.006, 0.006,
          0.007, 0.008, 0.008, 0.008, 0.008, 0.008, 0.008, 0.008, 0.007, 0.007, 0.006,
          0.006, 0.006, 0.006, 0.006, 0.006, 0.006, 0.006, 0.006, 0.006, 0.006, 0.006,
          0.005, 0.005, 0.005, 0.006, 0.006, 0.006, 0.006, 0.006, 0.006, 0.006, 0.006,
          0.006, 0.007, 0.008, 0.008, 0.008, 0.008, 0.008, 0.008, 0.009, 0.011, 0.012,
          0.012, 0.018]

# feature values shown as a rug
rug_x = [1.891, 2.288, 2.307, 2.430, 2.614, 2.658, 2.710, 2.742, 2.752, 2.782, 2.871,
         2.945, 2.956, 2.969, 2.995, 3.024, 3.053, 3.134, 3.167, 3.199, 3.214, 3.238,
         3.336, 3.349, 3.360, 3.376, 3.397, 3.413, 3.444, 3.457, 3.470, 3.482, 3.495,
         3.516, 3.542, 3.555, 3.568, 3.595, 3.611, 3.622, 3.634, 3.647, 3.659, 3.672,
         3.685, 3.706, 3.722, 3.746, 3.770, 3.780, 3.808, 3.857, 3.872, 3.901, 3.946,
         3.959, 3.991, 4.014]

# ---------------- styling ----------------
K = 1 / 1.046          # the page is photographed slightly enlarged; sizes are given in picture pixels


def s(v):
    return v * K


def fs(v):
    return "%.1fpx" % (v * K)


BLUE = "#4c72b0"
ORANGE = "#dd8452"
TEXT = "#262626"
FONT = "Liberation Serif"

p = figure(width=int(s(4275)), height=int(s(3290)), output_backend="svg", toolbar_location=None,
           x_range=(0.8, 5.2), y_range=(-0.05, 1.05),
           min_border_left=int(s(509)), min_border_right=int(s(50)),
           min_border_top=int(s(61)), min_border_bottom=int(s(465)))
p.background_fill_color = "#eaeaf2"
p.border_fill_color = "white"
p.outline_line_color = None

p.xgrid.grid_line_color = "white"
p.ygrid.grid_line_color = "white"
p.xgrid.grid_line_width = s(5)
p.ygrid.grid_line_width = s(5)

p.xaxis.ticker = FixedTicker(ticks=x_ticks)
p.yaxis.ticker = FixedTicker(ticks=y_ticks)
for ax in (p.xaxis, p.yaxis):
    ax.formatter = PrintfTickFormatter(format="%.1f")
    ax.axis_line_color = None
    ax.major_tick_line_color = None
    ax.minor_tick_line_color = None
    ax.major_tick_out = 0
    ax.major_tick_in = 0
    ax.minor_tick_out = 0
    ax.minor_tick_in = 0
    ax.major_label_text_font = FONT
    ax.major_label_text_font_size = fs(88)
    ax.major_label_text_color = TEXT
    ax.axis_label_text_font = FONT
    ax.axis_label_text_font_size = fs(250)
    ax.axis_label_text_font_style = "normal"
    ax.axis_label_text_color = TEXT
p.xaxis.axis_label = "U2base Rating Mean"
p.yaxis.axis_label = "Partial dependence"
p.xaxis.major_label_standoff = int(s(68))
p.yaxis.major_label_standoff = int(s(92))
p.xaxis.axis_label_standoff = int(s(12))
p.yaxis.axis_label_standoff = int(s(22))

# rug
p.segment(x0=rug_x, y0=[-0.05] * len(rug_x), x1=rug_x, y1=[0.005] * len(rug_x),
          line_color="#1a1a1a", line_width=s(10))

# individual curves
all_curves = ice_top + ice_v + ice_chaos + ice_early + ice_left + ice_mid + ice_low
ice_src = ColumnDataSource(dict(xs=[[k[0] for k in c] for c in all_curves],
                                ys=[[k[1] for k in c] for c in all_curves]))
p.multi_line(xs="xs", ys="ys", source=ice_src, line_color=BLUE, line_alpha=0.33,
             line_width=s(3.2))

# SE band and average
lower = [a - e for a, e in zip(avg_y, avg_se)]
upper = [a + e for a, e in zip(avg_y, avg_se)]
p.varea(x=avg_x, y1=lower, y2=upper, fill_color=ORANGE, fill_alpha=0.4)
p.line(x=avg_x, y=lower, line_color=ORANGE, line_alpha=0.4, line_width=s(3))
p.line(x=avg_x, y=upper, line_color=ORANGE, line_alpha=0.4, line_width=s(3))
p.line(x=avg_x, y=avg_y, line_color=ORANGE, line_width=s(9))

# legend proxies: a single NaN point, so nothing shows in the plot area
nan = float("nan")
r_ice = p.line(x=[nan], y=[nan], line_color=BLUE, line_width=s(9), line_cap="round")
r_avg = p.line(x=[nan], y=[nan], line_color=ORANGE, line_width=s(9), line_cap="round")
r_se = p.line(x=[nan], y=[nan], line_color=ORANGE, line_alpha=0.45, line_width=s(104),
              line_cap="butt")

legend = Legend(items=[LegendItem(label="Individual CEs", renderers=[r_ice]),
                       LegendItem(label="Average", renderers=[r_avg]),
                       LegendItem(label="SE", renderers=[r_se])],
                location=(int(s(69)), int(s(79))), orientation="vertical",
                label_text_font=FONT, label_text_font_size=fs(143), label_text_color=TEXT,
                glyph_width=int(s(295)), glyph_height=int(s(106)), label_height=int(s(106)),
                label_standoff=int(s(125)), padding=int(s(38)), spacing=int(s(33)), margin=0,
                background_fill_color="#eaeaf2", background_fill_alpha=0.8,
                border_line_color="#cccccc", border_line_width=s(7), border_line_alpha=0.9)
if "border_radius" in Legend.properties():
    legend.border_radius = int(s(22))
p.add_layout(legend)

open("out.html", "w").write(file_html(p, INLINE))
